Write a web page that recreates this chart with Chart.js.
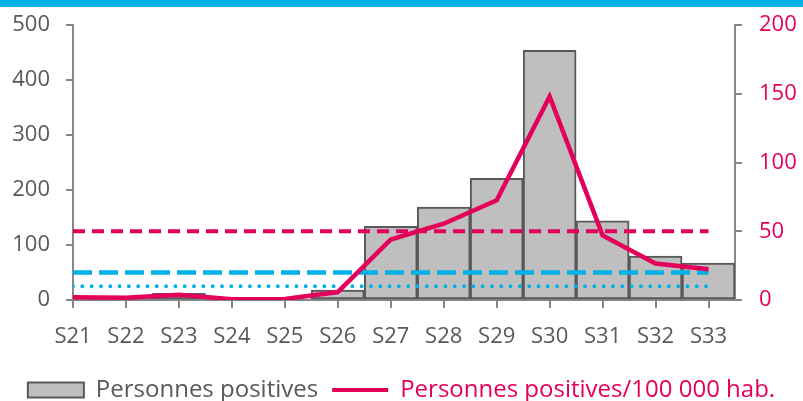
<!DOCTYPE html>
<html>
<head>
<meta charset="utf-8">
<script src="https://cdn.jsdelivr.net/npm/chart.js@4/dist/chart.umd.min.js"></script>
<style>
  html, body { margin: 0; padding: 0; background: #fff; }
  #wrap { position: relative; width: 803px; height: 401px; }
  #topbar { position: absolute; left: 0; top: 0; width: 803px; height: 7px; background: #00b0e6; }
  canvas { display: block; }
</style>
</head>
<body>
<div id="wrap">
  <div id="topbar"></div>
  <canvas id="chart" width="803" height="401"></canvas>
</div>
<script>
// Semaines et valeurs
const weeks = ['S21', 'S22', 'S23', 'S24', 'S25', 'S26', 'S27', 'S28', 'S29', 'S30', 'S31', 'S32', 'S33'];
const positives = [6, 5, 12, 2, 2, 18, 134, 169, 221, 454, 144, 80, 67];
const ratePer100k = [2, 1.7, 3.8, 0.6, 0.7, 5.8, 44, 55.5, 72.5, 148, 47, 26.5, 22.3];
const alertLevel = [50, 50, 50, 50, 50, 50, 50, 50, 50, 50, 50, 50, 50];
const warnLevel = [20, 20, 20, 20, 20, 20, 20, 20, 20, 20, 20, 20, 20];
const watchLevel = [10, 10, 10, 10, 10, 10, 10, 10, 10, 10, 10, 10, 10];
const leftTicks = [0, 100, 200, 300, 400, 500];
const rightTicks = [0, 50, 100, 150, 200];

const PINK = '#e4005a';
const BLUE = '#00b0e6';
const GREY_TEXT = '#595959';
const AXIS = '#868686';
const FONT = "'Open Sans', sans-serif";

const points = (arr) => arr.map((v, i) => ({ x: i, y: v }));

// fixed axis sizes, no label overhang padding
function fixVertical(width) {
  return (scale) => {
    scale.width = width;
    scale.paddingTop = 0;
    scale.paddingBottom = 0;
  };
}

const ctx = document.getElementById('chart').getContext('2d');

new Chart(ctx, {
  data: {
    datasets: [
      {
        type: 'line',
        label: 'Personnes positives/100 000 hab.',
        data: points(ratePer100k),
        yAxisID: 'y2',
        borderColor: PINK,
        borderWidth: 4.5,
        pointRadius: 0,
        pointStyle: 'line',
        tension: 0,
        order: 1
      },
      {
        type: 'line',
        label: 'seuil 50',
        data: points(alertLevel),
        yAxisID: 'y2',
        borderColor: PINK,
        borderWidth: 4,
        borderDash: [12, 7],
        pointRadius: 0,
        order: 2
      },
      {
        type: 'line',
        label: 'seuil 20',
        data: points(warnLevel),
        yAxisID: 'y2',
        borderColor: BLUE,
        borderWidth: 4.5,
        borderDash: [19, 7],
        pointRadius: 0,
        order: 2
      },
      {
        type: 'line',
        label: 'seuil 10',
        data: points(watchLevel),
        yAxisID: 'y2',
        borderColor: BLUE,
        borderWidth: 3.8,
        borderDash: [0.01, 9.3],
        borderCapStyle: 'round',
        pointRadius: 0,
        order: 2
      },
      {
        type: 'bar',
        label: 'Personnes positives',
        data: points(positives),
        yAxisID: 'y',
        backgroundColor: '#bfbfbf',
        borderColor: GREY_TEXT,
        borderWidth: 2,
        borderSkipped: false,
        barPercentage: 1,
        categoryPercentage: 1,
        clip: 0,
        order: 3
      }
    ]
  },
  options: {
    responsive: false,
    animation: false,
    layout: { padding: { top: 25, bottom: 0, left: 0, right: 0 } },
    plugins: {
      tooltip: { enabled: false },
      legend: {
        position: 'bottom',
        maxHeight: 37,
        labels: {
          usePointStyle: true,
          pointStyleWidth: 56,
          boxHeight: 15,
          padding: 14,
          font: { family: FONT, size: 24 },
          generateLabels: () => [
            {
              text: 'Personnes positives',
              fillStyle: '#bfbfbf',
              strokeStyle: GREY_TEXT,
              lineWidth: 2,
              pointStyle: 'rect',
              fontColor: GREY_TEXT,
              hidden: false,
              datasetIndex: 4
            },
            {
              text: 'Personnes positives/100 000 hab.',
              fillStyle: PINK,
              strokeStyle: PINK,
              lineWidth: 4,
              pointStyle: 'line',
              fontColor: PINK,
              hidden: false,
              datasetIndex: 0
            }
          ]
        }
      }
    },
    scales: {
      x: {
        type: 'linear',
        min: 0,
        max: 12.5,
        offset: false,
        afterBuildTicks: (scale) => {
          scale.ticks = weeks.map((w, i) => ({ value: i }));
        },
        afterFit: (scale) => {
          scale.height = 64;
          scale.paddingLeft = 0;
          scale.paddingRight = 0;
        },
        grid: { offset: false, drawOnChartArea: false, color: AXIS, lineWidth: 2, tickLength: 8 },
        border: { color: AXIS, width: 2 },
        ticks: {
          color: GREY_TEXT,
          font: { family: FONT, size: 22 },
          padding: 16,
          maxRotation: 0,
          autoSkip: false,
          callback: (v) => weeks[v]
        }
      },
      y: {
        position: 'left',
        min: 0,
        max: 500,
        afterBuildTicks: (scale) => {
          scale.ticks = leftTicks.map((v) => ({ value: v }));
        },
        afterFit: fixVertical(73),
        grid: { drawOnChartArea: false, color: AXIS, lineWidth: 2, tickLength: 7 },
        border: { color: AXIS, width: 2 },
        ticks: {
          color: GREY_TEXT,
          font: { family: FONT, size: 22 },
          padding: 16
        }
      },
      y2: {
        position: 'right',
        min: 0,
        max: 200,
        afterBuildTicks: (scale) => {
          scale.ticks = rightTicks.map((v) => ({ value: v }));
        },
        afterFit: fixVertical(68),
        grid: { drawOnChartArea: false, color: AXIS, lineWidth: 2, tickLength: 7 },
        border: { color: AXIS, width: 2 },
        ticks: {
          color: PINK,
          font: { family: FONT, size: 22 },
          padding: 17
        }
      }
    }
  }
});
</script>
</body>
</html>
